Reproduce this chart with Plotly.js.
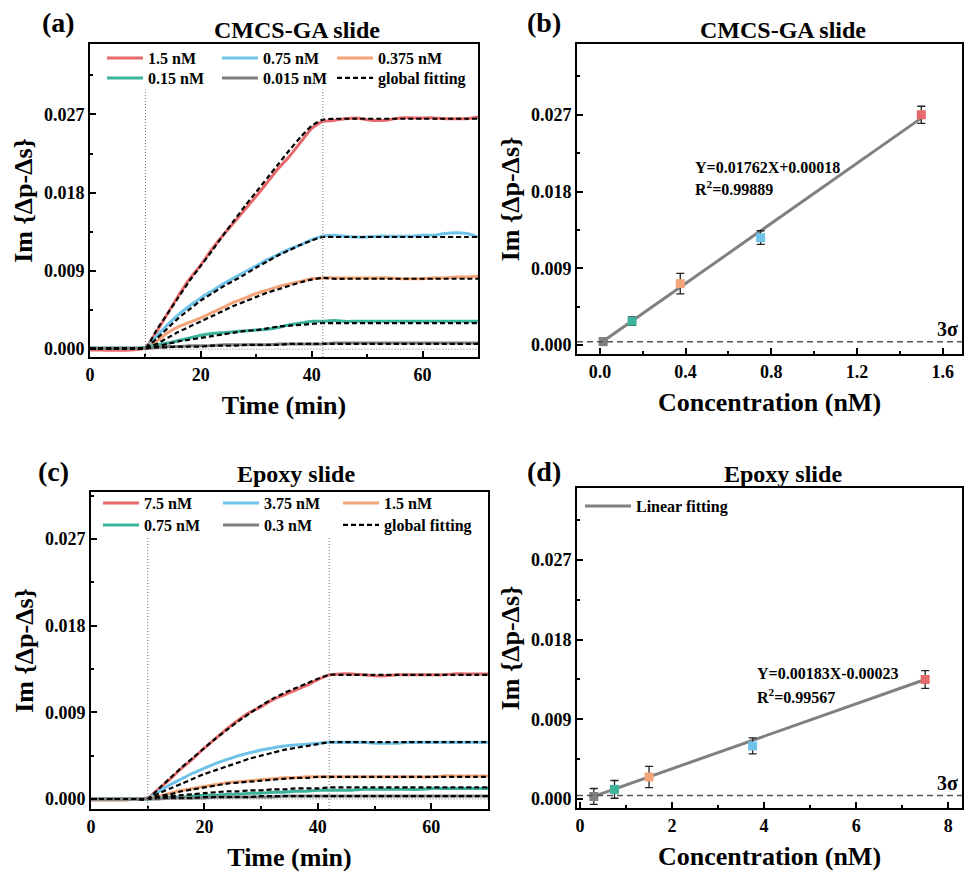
<!DOCTYPE html>
<html><head><meta charset="utf-8">
<script src="https://cdn.plot.ly/plotly-3.0.1.min.js"></script>
<style>html,body{margin:0;padding:0;background:#fff}#chart{width:964px;height:877px}</style>
</head><body><div id="chart"></div>
<script>
// ---------- data ----------
const timeMin = [0,2,4,6,8,10,12,14,16,18,20,22,24,26,28,30,32,34,36,38,40,42,44,46,48,50,52,54,56,58,60,62,64,66,68,70];

const cmcsLabels = ['1.5 nM','0.75 nM','0.375 nM','0.15 nM','0.015 nM'];
const cmcsRed = [-0.0001,-0.0001,-0.00012,-0.00012,-0.00008,0.0002,0.0020,0.0041,0.0062,0.0081,0.0097,0.0115,0.0131,0.0146,0.0161,0.0176,0.0192,0.0208,0.0222,0.0238,0.0254,0.0262,0.0263,0.0265,0.0266,0.0264,0.0263,0.0264,0.0266,0.0266,0.0266,0.0266,0.0265,0.0265,0.0265,0.0267];
const cmcsBlue = [0.0001,0.0001,0.0001,0.0001,0.0001,0.0002,0.0015,0.0028,0.0040,0.0050,0.0059,0.0067,0.0075,0.0082,0.0089,0.0096,0.0103,0.0109,0.0115,0.0120,0.0126,0.0130,0.0131,0.0130,0.0129,0.0129,0.0130,0.0130,0.0130,0.0130,0.0131,0.0131,0.0133,0.0134,0.0133,0.0129];
const cmcsOrange = [0.0001,0.0001,0.0001,0.0001,0.0001,0.0002,0.0009,0.0019,0.0026,0.0031,0.0036,0.0042,0.0048,0.0054,0.0059,0.0064,0.0068,0.0072,0.0075,0.0078,0.0081,0.0082,0.0082,0.0082,0.0082,0.0082,0.0082,0.0082,0.0081,0.0081,0.0081,0.0082,0.0082,0.0083,0.0083,0.0084];
const cmcsTeal = [0.0001,0.0001,0.0001,0.0001,0.0001,0.0002,0.0005,0.0007,0.0010,0.0013,0.0016,0.0018,0.0019,0.0020,0.0021,0.0022,0.0023,0.0025,0.0028,0.0030,0.0032,0.0032,0.0033,0.0032,0.0032,0.0032,0.0032,0.0032,0.0032,0.0032,0.0032,0.0032,0.0032,0.0032,0.0032,0.0032];
const cmcsGray = [0.0001,0.0001,0.0001,0.0001,0.0001,0.0001,0.0002,0.0003,0.0003,0.0004,0.0004,0.0004,0.0005,0.0005,0.0005,0.0005,0.0005,0.0006,0.0006,0.0006,0.0006,0.0006,0.0007,0.0007,0.0007,0.0007,0.0007,0.0007,0.0007,0.0007,0.0007,0.0007,0.0007,0.0007,0.0007,0.0007];
const cmcsRedFit = [0.0001,0.0001,0.0001,0.0001,0.0001,0.0001,0.0022,0.0041,0.0060,0.0079,0.0096,0.0113,0.0131,0.0148,0.0165,0.0181,0.0197,0.0213,0.0229,0.0244,0.0257,0.0264,0.0265,0.0265,0.0265,0.0265,0.0265,0.0265,0.0265,0.0265,0.0265,0.0265,0.0265,0.0265,0.0265,0.0265];
const cmcsBlueFit = [0.0001,0.0001,0.0001,0.0001,0.0001,0.0001,0.0012,0.0024,0.0036,0.0046,0.0056,0.0064,0.0072,0.0079,0.0086,0.0094,0.0101,0.0108,0.0114,0.0120,0.0125,0.0129,0.0129,0.0129,0.0129,0.0129,0.0129,0.0129,0.0129,0.0129,0.0129,0.0129,0.0129,0.0129,0.0129,0.0129];
const cmcsOrangeFit = [0.0001,0.0001,0.0001,0.0001,0.0001,0.0001,0.0006,0.0013,0.0020,0.0026,0.0032,0.0038,0.0044,0.0050,0.0055,0.0060,0.0065,0.0069,0.0073,0.0077,0.0080,0.0082,0.0081,0.0081,0.0081,0.0081,0.0081,0.0081,0.0081,0.0081,0.0081,0.0081,0.0081,0.0081,0.0081,0.0081];
const cmcsTealFit = [0.0001,0.0001,0.0001,0.0001,0.0001,0.0001,0.0003,0.0006,0.0009,0.0011,0.0013,0.0015,0.0017,0.0019,0.0021,0.0022,0.0024,0.0026,0.0027,0.0028,0.0029,0.0030,0.0030,0.0030,0.0030,0.0030,0.0030,0.0030,0.0030,0.0030,0.0030,0.0030,0.0030,0.0030,0.0030,0.0030];
const cmcsGrayFit = [0.0001,0.0001,0.0001,0.0001,0.0001,0.0001,0.0002,0.0002,0.0003,0.0003,0.0003,0.0004,0.0004,0.0004,0.0005,0.0005,0.0005,0.0005,0.0006,0.0006,0.0006,0.0006,0.0006,0.0006,0.0006,0.0006,0.0006,0.0006,0.0006,0.0006,0.0006,0.0006,0.0006,0.0006,0.0006,0.0006];

const epoxyLabels = ['7.5 nM','3.75 nM','1.5 nM','0.75 nM','0.3 nM'];
const epoxyRed = [-0.0001,-0.0001,-0.0001,-0.0001,0.0000,0.0001,0.0011,0.0021,0.0032,0.0042,0.0053,0.0063,0.0073,0.0082,0.0090,0.0096,0.0103,0.0108,0.0113,0.0118,0.0124,0.0129,0.0130,0.0130,0.0129,0.0128,0.0128,0.0129,0.0129,0.0129,0.0129,0.0129,0.0130,0.0130,0.0130,0.0130];
const epoxyBlue = [0.0000,0.0000,0.0000,0.0000,0.0000,0.0001,0.0008,0.0015,0.0021,0.0027,0.0032,0.0037,0.0041,0.0045,0.0048,0.0051,0.0053,0.0055,0.0056,0.0057,0.0058,0.0059,0.0059,0.0059,0.0059,0.0058,0.0058,0.0058,0.0059,0.0059,0.0059,0.0059,0.0059,0.0059,0.0059,0.0059];
const epoxyOrange = [0.0000,0.0000,0.0000,0.0000,0.0000,0.0001,0.0003,0.0006,0.0009,0.0011,0.0013,0.0015,0.0017,0.0018,0.0019,0.0020,0.0021,0.0022,0.0022,0.0023,0.0023,0.0023,0.0023,0.0023,0.0023,0.0023,0.0023,0.0023,0.0023,0.0023,0.0023,0.0024,0.0024,0.0024,0.0024,0.0024];
const epoxyTeal = [0.0000,0.0000,0.0000,0.0000,0.0000,0.0000,0.0001,0.0002,0.0002,0.0003,0.0004,0.0004,0.0005,0.0005,0.0006,0.0006,0.0007,0.0007,0.0008,0.0008,0.0009,0.0009,0.0009,0.0009,0.0010,0.0010,0.0010,0.0010,0.0010,0.0010,0.0011,0.0011,0.0011,0.0011,0.0011,0.0011];
const epoxyGray = [0.0000,0.0000,0.0000,0.0000,0.0000,0.0000,0.0000,0.0001,0.0001,0.0001,0.0001,0.0002,0.0002,0.0002,0.0002,0.0002,0.0002,0.0003,0.0003,0.0003,0.0003,0.0003,0.0003,0.0003,0.0003,0.0003,0.0003,0.0003,0.0003,0.0003,0.0003,0.0003,0.0003,0.0003,0.0003,0.0003];
const epoxyRedFit = [0.0000,0.0000,0.0000,0.0000,0.0000,0.0000,0.0011,0.0022,0.0033,0.0043,0.0053,0.0063,0.0072,0.0081,0.0089,0.0097,0.0104,0.0110,0.0115,0.0120,0.0125,0.0129,0.0129,0.0129,0.0129,0.0129,0.0129,0.0129,0.0129,0.0129,0.0129,0.0129,0.0129,0.0129,0.0129,0.0129];
const epoxyBlueFit = [0.0000,0.0000,0.0000,0.0000,0.0000,0.0000,0.0006,0.0011,0.0016,0.0021,0.0026,0.0030,0.0034,0.0038,0.0042,0.0045,0.0048,0.0051,0.0053,0.0055,0.0057,0.0059,0.0059,0.0059,0.0059,0.0059,0.0059,0.0059,0.0059,0.0059,0.0059,0.0059,0.0059,0.0059,0.0059,0.0059];
const epoxyOrangeFit = [0.0000,0.0000,0.0000,0.0000,0.0000,0.0000,0.0003,0.0005,0.0008,0.0010,0.0012,0.0014,0.0016,0.0017,0.0018,0.0019,0.0020,0.0021,0.0022,0.0022,0.0023,0.0023,0.0023,0.0023,0.0023,0.0023,0.0023,0.0023,0.0023,0.0023,0.0023,0.0023,0.0023,0.0023,0.0023,0.0023];
const epoxyTealFit = [0.0000,0.0000,0.0000,0.0000,0.0000,0.0000,0.0002,0.0003,0.0004,0.0005,0.0006,0.0007,0.0008,0.0008,0.0009,0.0009,0.0010,0.0010,0.0011,0.0011,0.0011,0.0012,0.0012,0.0012,0.0012,0.0012,0.0012,0.0012,0.0012,0.0012,0.0012,0.0012,0.0012,0.0012,0.0012,0.0012];
const epoxyGrayFit = [0.0000,0.0000,0.0000,0.0000,0.0000,0.0000,0.0001,0.0001,0.0001,0.0001,0.0002,0.0002,0.0002,0.0002,0.0002,0.0003,0.0003,0.0003,0.0003,0.0003,0.0003,0.0003,0.0003,0.0003,0.0003,0.0003,0.0003,0.0003,0.0003,0.0003,0.0003,0.0003,0.0003,0.0003,0.0003,0.0003];

const injectionTimes = [10, 42];
const baselineY = 0;

const cmcsConc = [0.015, 0.15, 0.375, 0.75, 1.5];
const cmcsResp = [0.0004, 0.0028, 0.0072, 0.0126, 0.0270];
const cmcsErr  = [0.0004, 0.0005, 0.0012, 0.0008, 0.0010];
const cmcsFitX = [0.015, 1.5];
const cmcsFitY = [0.00044, 0.02661];
const cmcsEq = 'Y=0.01762X+0.00018';
const cmcsR2 = 'R<sup>2</sup>=0.99889';

const epoxyConc = [0.3, 0.75, 1.5, 3.75, 7.5];
const epoxyResp = [0.0003, 0.0011, 0.0025, 0.0060, 0.0135];
const epoxyErr  = [0.0009, 0.0010, 0.0012, 0.0009, 0.0010];
const epoxyFitX = [0.3, 7.5];
const epoxyFitY = [0.00032, 0.01350];
const epoxyEq = 'Y=0.00183X-0.00023';
const epoxyR2 = 'R<sup>2</sup>=0.99567';

const threeSigma = 0.0004;

// ---------- style ----------
const FONT = '"Liberation Serif", "Times New Roman", Times, serif';
const W = 964, H = 877;
const C = {red:'#E8696B', blue:'#6FC3E8', orange:'#F4A479', teal:'#3CB39B', gray:'#7F7F7F'};
const seriesColors = [C.red, C.blue, C.orange, C.teal, C.gray];
const pointColors = [C.gray, C.teal, C.orange, C.blue, C.red];
const px = v => v / W;
const py = v => 1 - v / H;

const traces = [];
function kinetics(xa, ya, labels, data, fits, legA, legB) {
  data.forEach((d, i) => {
    traces.push({x: timeMin, y: d, xaxis: xa, yaxis: ya, type: 'scatter', mode: 'lines',
      name: labels[i], line: {color: seriesColors[i], width: 3, shape: 'spline', smoothing: 0.6},
      legend: i < 3 ? legA : legB, showlegend: true});
  });
  fits.forEach((f, i) => {
    traces.push({x: timeMin, y: f, xaxis: xa, yaxis: ya, type: 'scatter', mode: 'lines',
      name: 'global fitting', line: {color: '#000', width: 2.2, dash: '5px,3px', shape: 'spline', smoothing: 0.6},
      legend: legB, showlegend: i === 0, legendwidth: 110});
  });
}
kinetics('x', 'y', cmcsLabels, [cmcsRed, cmcsBlue, cmcsOrange, cmcsTeal, cmcsGray],
  [cmcsRedFit, cmcsBlueFit, cmcsOrangeFit, cmcsTealFit, cmcsGrayFit], 'legend', 'legend2');
kinetics('x3', 'y3', epoxyLabels, [epoxyRed, epoxyBlue, epoxyOrange, epoxyTeal, epoxyGray],
  [epoxyRedFit, epoxyBlueFit, epoxyOrangeFit, epoxyTealFit, epoxyGrayFit], 'legend3', 'legend4');

function calib(xa, ya, cx, cy, ce, fx, fy, showLeg) {
  traces.push({x: fx, y: fy, xaxis: xa, yaxis: ya, type: 'scatter', mode: 'lines', name: 'Linear fitting',
    line: {color: '#808080', width: 3}, legend: 'legend5', showlegend: showLeg, legendwidth: 120});
  traces.push({x: cx, y: cy, xaxis: xa, yaxis: ya, type: 'scatter', mode: 'markers', showlegend: false,
    marker: {symbol: 'square', size: 9, color: pointColors},
    error_y: {type: 'data', array: ce, visible: true, color: '#222', thickness: 1.3, width: 4}});
}
calib('x2', 'y2', cmcsConc, cmcsResp, cmcsErr, cmcsFitX, cmcsFitY, false);
calib('x4', 'y4', epoxyConc, epoxyResp, epoxyErr, epoxyFitX, epoxyFitY, true);

const tickFont = {family: FONT, size: 18, color: '#000', weight: 'bold'};
const titleFont = {family: FONT, size: 26, color: '#000', weight: 'bold'};
function xAxis(domain, range, dtick, mdtick, anchor, title, fmt) {
  return {domain, range, anchor, dtick, tick0: 0, tickformat: fmt,
    ticks: 'inside', ticklen: 6, tickwidth: 2, tickcolor: '#000',
    minor: {ticks: 'inside', ticklen: 3, tickwidth: 2, dtick: mdtick, tickcolor: '#000'},
    showline: true, linewidth: 2, linecolor: '#000', mirror: true,
    showgrid: false, zeroline: false, tickfont: tickFont,
    title: {text: title, font: titleFont, standoff: 12}};
}
function yAxis(domain, range, anchor) {
  return {domain, range, anchor, dtick: 0.009, tick0: 0, tickformat: '.3f',
    ticks: 'inside', ticklen: 6, tickwidth: 2, tickcolor: '#000',
    minor: {ticks: 'inside', ticklen: 3, tickwidth: 2, dtick: 0.0045, tickcolor: '#000'},
    showline: true, linewidth: 2, linecolor: '#000', mirror: true,
    showgrid: false, zeroline: false, tickfont: tickFont,
    title: {text: 'Im {Δp-Δs}', font: titleFont, standoff: 4}};
}
function leg(xp, yp, ew, iw) {
  return {x: px(xp), y: py(yp), xanchor: 'left', yanchor: 'middle', orientation: 'h',
    entrywidth: ew, entrywidthmode: 'pixels', itemwidth: iw, bgcolor: 'rgba(0,0,0,0)',
    borderwidth: 0, traceorder: 'normal', font: {family: FONT, size: 16, color: '#000', weight: 'bold'}};
}

const shapes = [];
[['x', 'y'], ['x3', 'y3']].forEach(([xa, ya]) => {
  injectionTimes.forEach(t => shapes.push({type: 'line', xref: xa, yref: ya + ' domain', x0: t, x1: t, y0: 0, y1: 0.855,
    line: {color: '#777', width: 1, dash: '1px,2px'}}));
  shapes.push({type: 'line', xref: xa, yref: ya, x0: injectionTimes[0], x1: 70, y0: baselineY, y1: baselineY,
    line: {color: '#777', width: 1, dash: '1px,2px'}});
});
['y2', 'y4'].forEach((ya, i) => shapes.push({type: 'line', xref: (i ? 'x4' : 'x2') + ' domain', yref: ya,
  x0: 0, x1: 1, y0: threeSigma, y1: threeSigma, line: {color: '#555', width: 1.5, dash: '6px,4px'}}));

const annFont = (s) => ({family: FONT, size: s, color: '#000', weight: 'bold'});
function ann(text, x, y, size, xanchor) {
  return {text, x: px(x), y: py(y), xref: 'paper', yref: 'paper', xanchor: xanchor || 'left', yanchor: 'middle',
    showarrow: false, font: annFont(size)};
}
const annotations = [
  ann('(a)', 40, 22, 28), ann('(b)', 525, 22, 28), ann('(c)', 36, 471, 28), ann('(d)', 525, 471, 28),
  ann('CMCS-GA slide', 297, 30, 24, 'center'), ann('CMCS-GA slide', 783, 30, 24, 'center'),
  ann('Epoxy slide', 296, 474, 24, 'center'), ann('Epoxy slide', 783, 474, 24, 'center'),
  ann(cmcsEq, 693, 167, 16), ann(cmcsR2, 693, 188, 16),
  ann(epoxyEq, 755, 673, 16), ann(epoxyR2, 755, 696, 16),
  {text: '3σ', xref: 'x2 domain', yref: 'y2', x: 0.995, y: threeSigma, xanchor: 'right', yanchor: 'bottom', showarrow: false, font: annFont(20)},
  {text: '3σ', xref: 'x4 domain', yref: 'y4', x: 0.995, y: threeSigma, xanchor: 'right', yanchor: 'bottom', showarrow: false, font: annFont(20)}
];

const layout = {
  width: W, height: H, margin: {l: 0, r: 0, t: 0, b: 0},
  paper_bgcolor: '#fff', plot_bgcolor: '#fff', showlegend: true,
  xaxis: xAxis([px(90), px(478)], [0, 70], 20, 10, 'y', 'Time (min)', 'd'),
  yaxis: yAxis([py(357), py(44)], [-0.0009, 0.0351], 'x'),
  xaxis2: xAxis([px(577), px(962)], [-0.107, 1.69], 0.4, 0.2, 'y2', 'Concentration (nM)', '.1f'),
  yaxis2: yAxis([py(354), py(44)], [-0.00105, 0.0353], 'x2'),
  xaxis3: xAxis([px(91), px(488)], [0, 70], 20, 10, 'y3', 'Time (min)', 'd'),
  yaxis3: yAxis([py(809), py(492)], [-0.00104, 0.0319], 'x3'),
  xaxis4: xAxis([px(577), px(962)], [-0.065, 8.3], 2, 1, 'y4', 'Concentration (nM)', 'd'),
  yaxis4: yAxis([py(808), py(488)], [-0.001, 0.0351], 'x4'),
  legend: leg(102, 58, 64, 36), legend2: leg(102, 78, 64, 36),
  legend3: leg(98, 503, 69, 36), legend4: leg(98, 525, 69, 36),
  legend5: leg(580, 506, 80, 46),
  shapes, annotations
};
Plotly.newPlot('chart', traces, layout, {staticPlot: true, displayModeBar: false});
</script></body></html>
